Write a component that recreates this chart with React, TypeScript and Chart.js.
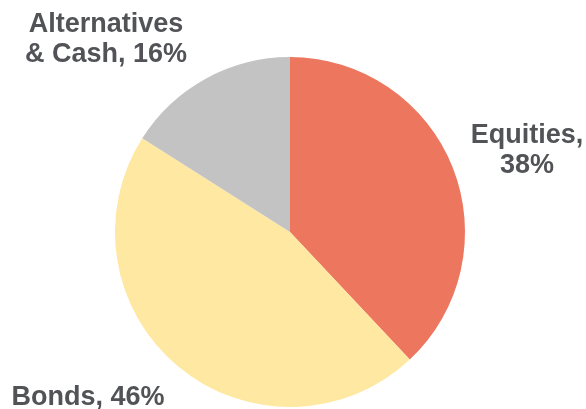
import React, { useEffect, useRef } from "react";
import { Chart, registerables } from "chart.js";

Chart.register(...registerables);

const categories = ["Equities", "Bonds", "Alternatives & Cash"];
const shares = [38, 46, 16];
const labelLines = [["Equities,", "38%"], ["Bonds, 46%"], ["Alternatives", "& Cash, 16%"]];
const colors = ["#EC765E", "#FFE8A1", "#C3C3C3"];

// label anchors relative to pie center, in units of radius (x center of text, baseline of first line)
const labelAnchors = [
  { dx: 237 / 175, dy: -89 / 175 },
  { dx: -202 / 175, dy: 173 / 175 },
  { dx: -184 / 175, dy: -200 / 175 },
];

const labelPlugin = {
  id: "sliceLabels",
  afterDraw(chart: any) {
    const ctx = chart.ctx;
    const meta = chart.getDatasetMeta(0);
    const arc = meta.data[0];
    if (!arc) return;
    const { x, y, outerRadius } = arc.getProps(["x", "y", "outerRadius"], true);
    ctx.save();
    ctx.font = "bold 27px 'Liberation Sans', Arial, sans-serif";
    ctx.fillStyle = "#515357";
    ctx.textAlign = "center";
    ctx.textBaseline = "alphabetic";
    labelLines.forEach((lines, i) => {
      const a = labelAnchors[i];
      const cx = x + a.dx * outerRadius;
      const cy = y + a.dy * outerRadius;
      lines.forEach((t, j) => ctx.fillText(t, cx, cy + j * 30));
    });
    ctx.restore();
  },
};

export default function App() {
  const ref = useRef<HTMLCanvasElement>(null);
  useEffect(() => {
    document.body.style.margin = "0";
    const chart = new Chart(ref.current!, {
      type: "pie",
      data: {
        labels: categories,
        datasets: [
          {
            data: shares,
            backgroundColor: colors,
            borderWidth: 0,
          },
        ],
      },
      options: {
        responsive: false,
        animation: false,
        layout: { padding: { top: 57, bottom: 2, left: 115, right: 121 } },
        plugins: { legend: { display: false }, tooltip: { enabled: false } },
      },
      plugins: [labelPlugin],
    });
    return () => chart.destroy();
  }, []);
  return (
    <div style={{ width: 586, height: 409, background: "#fff" }}>
      <canvas ref={ref} width={586} height={409} />
    </div>
  );
}
